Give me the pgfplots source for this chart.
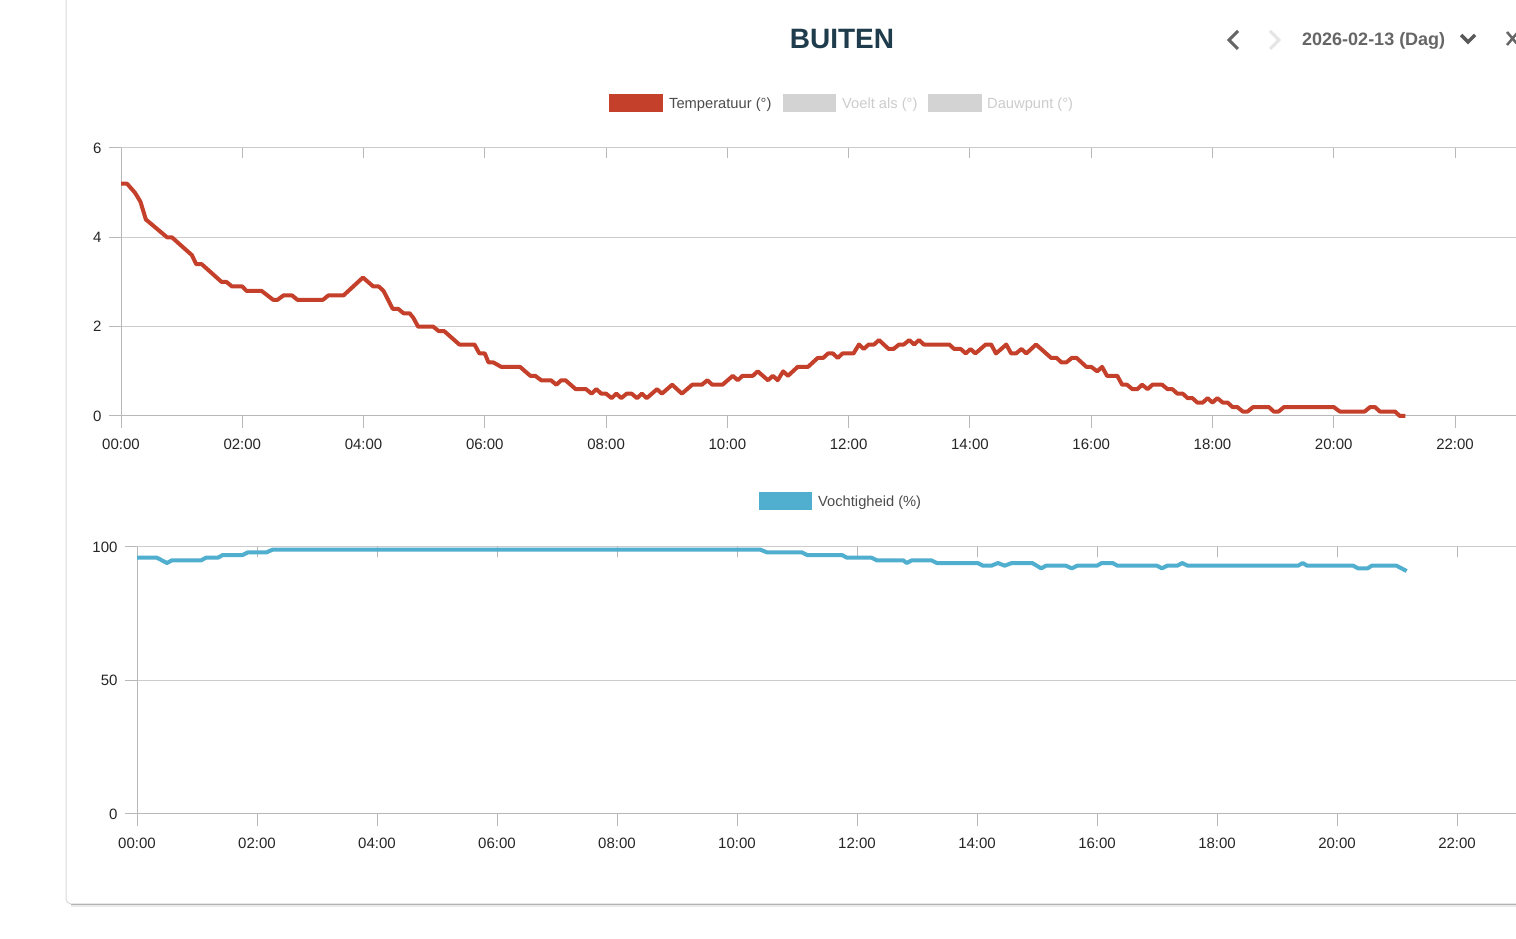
\documentclass[border=0pt]{standalone}
\usepackage{fontspec}
\setmainfont{Liberation Sans}
\usepackage{pgfplots}
\pgfplotsset{compat=1.18}
\usepackage{pgfplotstable}

\definecolor{tempred}{HTML}{C5402B}
\definecolor{humblue}{HTML}{50AECF}
\definecolor{gridgray}{HTML}{CCCCCC}
\definecolor{axisgray}{HTML}{B8B8B8}
\definecolor{titleblue}{HTML}{1F3C4C}
\definecolor{legoff}{HTML}{D3D3D3}

\pgfplotstableread{
t v
0.00 5.2
0.10 5.2
0.23 5.0
0.32 4.8
0.41 4.4
0.76 4.0
0.84 4.0
1.17 3.6
1.24 3.4
1.33 3.4
1.66 3.0
1.74 3.0
1.83 2.9
2.00 2.9
2.07 2.8
2.32 2.8
2.51 2.6
2.58 2.6
2.68 2.7
2.82 2.7
2.91 2.6
3.33 2.6
3.42 2.7
3.67 2.7
3.99 3.1
4.16 2.9
4.25 2.9
4.33 2.8
4.48 2.4
4.57 2.4
4.66 2.3
4.76 2.3
4.82 2.2
4.90 2.0
5.15 2.0
5.24 1.9
5.33 1.9
5.58 1.6
5.83 1.6
5.91 1.4
6.00 1.4
6.06 1.2
6.14 1.2
6.27 1.1
6.58 1.1
6.75 0.9
6.83 0.9
6.93 0.8
7.09 0.8
7.18 0.7
7.26 0.8
7.33 0.8
7.50 0.6
7.67 0.6
7.76 0.5
7.84 0.6
7.92 0.5
8.00 0.5
8.09 0.4
8.17 0.5
8.25 0.4
8.34 0.5
8.42 0.5
8.51 0.4
8.59 0.5
8.67 0.4
8.84 0.6
8.92 0.5
9.09 0.7
9.25 0.5
9.42 0.7
9.58 0.7
9.67 0.8
9.75 0.7
9.92 0.7
10.09 0.9
10.17 0.8
10.25 0.9
10.42 0.9
10.50 1.0
10.67 0.8
10.75 0.9
10.83 0.8
10.92 1.0
11.00 0.9
11.16 1.1
11.33 1.1
11.49 1.3
11.58 1.3
11.66 1.4
11.74 1.4
11.82 1.3
11.90 1.4
12.08 1.4
12.17 1.6
12.25 1.5
12.33 1.6
12.42 1.6
12.50 1.7
12.66 1.5
12.74 1.5
12.83 1.6
12.91 1.6
13.00 1.7
13.08 1.6
13.16 1.7
13.24 1.6
13.66 1.6
13.74 1.5
13.85 1.5
13.93 1.4
14.01 1.5
14.09 1.4
14.26 1.6
14.35 1.6
14.43 1.4
14.60 1.6
14.68 1.4
14.76 1.4
14.85 1.5
14.93 1.4
15.09 1.6
15.34 1.3
15.43 1.3
15.51 1.2
15.59 1.2
15.68 1.3
15.76 1.3
15.92 1.1
16.00 1.1
16.10 1.0
16.18 1.1
16.26 0.9
16.43 0.9
16.51 0.7
16.59 0.7
16.68 0.6
16.76 0.6
16.84 0.7
16.93 0.6
17.01 0.7
17.17 0.7
17.26 0.6
17.34 0.6
17.42 0.5
17.51 0.5
17.59 0.4
17.67 0.4
17.75 0.3
17.84 0.3
17.92 0.4
18.00 0.3
18.08 0.4
18.17 0.3
18.25 0.3
18.33 0.2
18.41 0.2
18.50 0.1
18.58 0.1
18.67 0.2
18.93 0.2
19.01 0.1
19.09 0.1
19.18 0.2
20.00 0.2
20.10 0.1
20.51 0.1
20.60 0.2
20.68 0.2
20.76 0.1
21.01 0.1
21.09 0.0
21.18 0.0
}\temptable

\pgfplotstableread{
t v
0.00 96
0.33 96
0.50 94
0.58 95
1.07 95
1.15 96
1.35 96
1.43 97
1.76 97
1.85 98
2.16 98
2.26 99
10.39 99
10.50 98
11.08 98
11.17 97
11.75 97
11.83 96
12.24 96
12.33 95
12.77 95
12.83 94
12.91 95
13.24 95
13.33 94
14.01 94
14.10 93
14.24 93
14.35 94
14.46 93
14.58 94
14.92 94
15.07 92
15.15 93
15.48 93
15.58 92
15.67 93
16.00 93
16.08 94
16.26 94
16.34 93
17.00 93
17.08 92
17.17 93
17.34 93
17.42 94
17.51 93
19.35 93
19.43 94
19.50 93
20.27 93
20.35 92
20.51 92
20.58 93
20.99 93
21.16 91
}\humtable

\pgfplotsset{
  dashaxis/.style={
    scale only axis,
    axis lines*=left,
    axis line style={axisgray, line width=1pt},
    ymajorgrids,
    grid style={gridgray, line width=1pt},
    tick style={axisgray, line width=1pt},
    tick align=outside,
    major tick length=12pt,
    xtick={0,2,...,22},
    xticklabels={00:00,02:00,04:00,06:00,08:00,10:00,12:00,14:00,16:00,18:00,20:00,22:00},
    tick label style={font=\fontsize{15}{18}\selectfont, text=black!85},
    xticklabel style={yshift=-8pt},
    yticklabel style={xshift=-4pt},
    /pgf/number format/assume math mode=true,
    xmin=0,
    clip=false,
  },
}

\begin{document}
\begin{tikzpicture}[x=1pt,y=1pt]
\useasboundingbox (0,0) rectangle (1516,939);
\fill[white] (0,0) rectangle (1516,939);

% card outline
\draw[black!14, line width=1pt] (66,939) -- (66,40) arc[start angle=180, end angle=270, radius=5] -- (1516,35);
\draw[black!30, line width=1.5pt] (71,34.5) -- (1516,34.5);
\draw[black!8, line width=1.5pt] (71,33) -- (1516,33);

% header
\node[font=\fontsize{28}{32}\selectfont\bfseries, text=titleblue] at (842,900) {BUITEN};
\node[anchor=west, inner sep=0, font=\fontsize{18}{21}\selectfont\bfseries, text=black!60] at (1302,898) {2026-02-13 (Dag)};
\draw[black!60, line width=3pt] (1238,908) -- (1229,899) -- (1238,890);
\draw[black!10, line width=3pt] (1270,908) -- (1279,899) -- (1270,890);
\draw[black!65, line width=3.5pt] (1461,904) -- (1468,897) -- (1475,904);
\draw[black!60, line width=2.5pt] (1507,907) -- (1518,894) (1507,894) -- (1518,907);

% top legend
\fill[tempred] (609,827) rectangle (663,845);
\node[anchor=west, inner sep=0, font=\fontsize{14.7}{17}\selectfont, text=black!70] at (669,834) {Temperatuur (°)};
\fill[legoff] (783,827) rectangle (836,845);
\node[anchor=west, inner sep=0, font=\fontsize{14.7}{17}\selectfont, text=black!20] at (842,834) {Voelt als (°)};
\fill[legoff] (928,827) rectangle (982,845);
\node[anchor=west, inner sep=0, font=\fontsize{14.7}{17}\selectfont, text=black!20] at (987,834) {Dauwpunt (°)};

% bottom legend
\fill[humblue] (759,429) rectangle (812,447);
\node[anchor=west, inner sep=0, font=\fontsize{14.7}{17}\selectfont, text=black!70] at (818,436) {Vochtigheid (\%)};

% temperature
\begin{axis}[dashaxis,
  at={(121pt,523pt)}, anchor=south west,
  width=1395pt, height=268pt,
  xmax=23.006, ymin=0, ymax=6,
  ytick={0,2,4,6},
]
\pgfplotsinvokeforeach{2,4,...,22}{\draw[axisgray, line width=1pt] (axis cs:#1,6) -- ++(0,-10pt);}
\addplot[tempred, line width=4pt, line join=round] table[x=t, y=v] {\temptable};
\end{axis}

% humidity
\begin{axis}[dashaxis,
  at={(137pt,125pt)}, anchor=south west,
  width=1379pt, height=267pt,
  xmax=22.983, ymin=0, ymax=100,
  ytick={0,50,100},
]
\pgfplotsinvokeforeach{2,4,...,22}{\draw[axisgray, line width=1pt] (axis cs:#1,100) -- ++(0,-10pt);}
\addplot[humblue, line width=4pt, line join=round] table[x=t, y=v] {\humtable};
\end{axis}
\end{tikzpicture}
\end{document}
